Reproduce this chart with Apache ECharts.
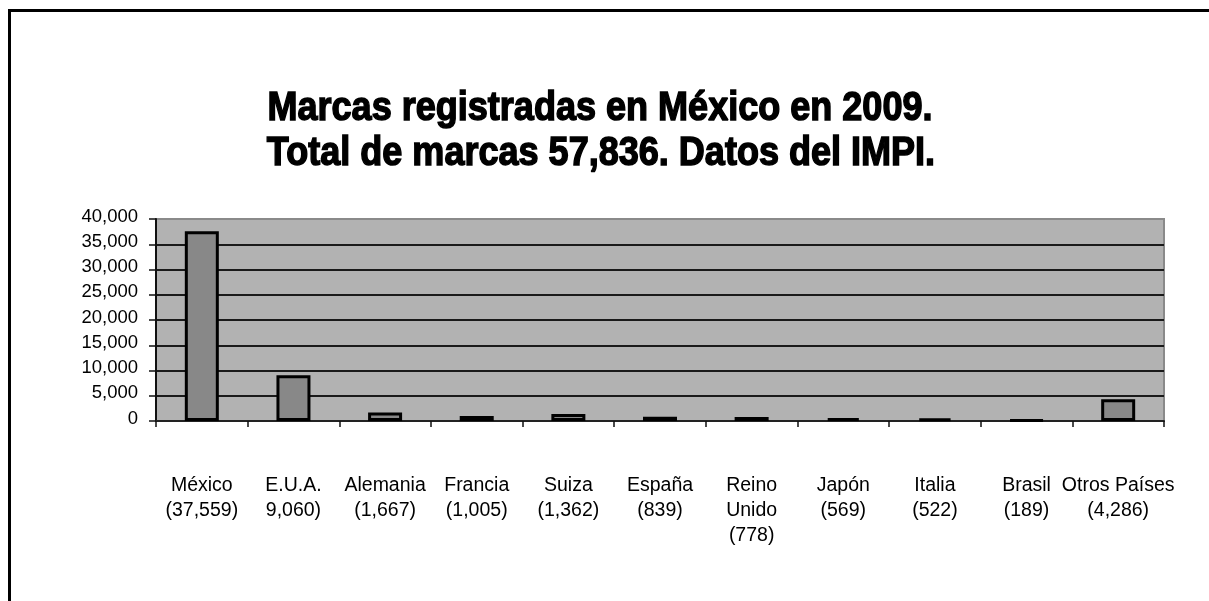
<!DOCTYPE html>
<html>
<head>
<meta charset="utf-8">
<script src="https://cdn.jsdelivr.net/npm/echarts@6/dist/echarts.min.js"></script>
<style>
html,body{margin:0;padding:0;background:#fff;}
#c{width:1209px;height:601px;}
</style>
</head>
<body>
<div id="c"></div>
<script>
const titleLines = ["Marcas registradas en México en 2009.", "Total de marcas 57,836. Datos del IMPI."];
const categories = ["México\n(37,559)", "E.U.A.\n9,060)", "Alemania\n(1,667)", "Francia\n(1,005)", "Suiza\n(1,362)", "España\n(839)", "Reino\nUnido\n(778)", "Japón\n(569)", "Italia\n(522)", "Brasil\n(189)", "Otros Países\n(4,286)"];
const values = [37559, 9060, 1667, 1005, 1362, 839, 778, 569, 522, 189, 4286];
const yMin = 0, yMax = 40000, yStep = 5000;

const titleFont = 'bold 41px "Liberation Sans", Arial, sans-serif';
const ctx = document.createElement('canvas').getContext('2d');
ctx.font = titleFont;
const w1 = ctx.measureText(titleLines[0]).width;
const sx = 665 / w1;

const nLines = (yMax - yMin) / yStep + 1;
const splitColors = [];
for (let i = 0; i < nLines; i++) splitColors.push(i === nLines - 1 ? '#8a8a8a' : '#1a1a1a');

const chart = echarts.init(document.getElementById('c'), null, {renderer: 'canvas'});
chart.setOption({
  animation: false,
  backgroundColor: '#fff',
  graphic: [
    {
      type: 'rect', silent: true,
      shape: {x: 9.5, y: 10.5, width: 1400, height: 800},
      style: {fill: null, stroke: '#000', lineWidth: 3},
      z: 100
    },
    {
      type: 'text', silent: true, x: 600, y: 109, scaleX: sx,
      style: {text: titleLines[0], font: titleFont, fill: '#000', stroke: '#000', lineWidth: 1.5, textAlign: 'center', verticalAlign: 'middle'}
    },
    {
      type: 'text', silent: true, x: 601, y: 154, scaleX: sx,
      style: {text: titleLines[1], font: titleFont, fill: '#000', stroke: '#000', lineWidth: 1.5, textAlign: 'center', verticalAlign: 'middle'}
    }
  ],
  grid: {
    left: 156, right: 45, top: 219, bottom: 180,
    show: true,
    backgroundColor: '#b2b2b2',
    borderColor: '#8a8a8a',
    borderWidth: 2
  },
  xAxis: {
    type: 'category',
    data: categories,
    boundaryGap: true,
    axisLine: {show: true, lineStyle: {color: '#222', width: 2}},
    axisTick: {show: true, alignWithLabel: false, length: 6, lineStyle: {color: '#111', width: 1.5}},
    axisLabel: {
      interval: 0,
      margin: 52,
      fontFamily: "'Liberation Sans', Arial, sans-serif",
      fontSize: 19.5,
      lineHeight: 25,
      color: '#000'
    }
  },
  yAxis: {
    type: 'value',
    min: yMin, max: yMax, interval: yStep,
    axisLine: {show: true, lineStyle: {color: '#111', width: 2}},
    axisTick: {show: true, length: 7, lineStyle: {color: '#111', width: 1.5}},
    splitLine: {show: true, lineStyle: {color: splitColors, width: 2}},
    axisLabel: {
      margin: 18,
      fontFamily: "'Liberation Sans', Arial, sans-serif",
      fontSize: 18.5,
      color: '#000',
      verticalAlign: 'bottom',
      padding: [0, 0, -7, 0],
      formatter: v => v.toLocaleString('en-US')
    }
  },
  series: [{
    type: 'bar',
    data: values,
    barWidth: 34,
    itemStyle: {color: '#888888', borderColor: '#000', borderWidth: 3}
  }]
});
</script>
</body>
</html>
